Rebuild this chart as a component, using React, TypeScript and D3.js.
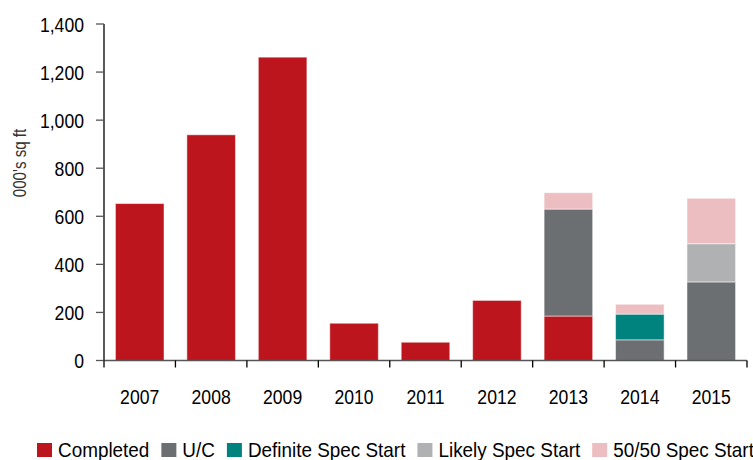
import React, { useEffect, useRef } from "react";
import * as d3 from "d3";

const years = ["2007", "2008", "2009", "2010", "2011", "2012", "2013", "2014", "2015"];
const completed = [653, 939, 1262, 155, 76, 250, 185, 0, 0];
const underConstruction = [0, 0, 0, 0, 0, 0, 445, 86, 327];
const definiteSpec = [0, 0, 0, 0, 0, 0, 0, 107, 0];
const likelySpec = [0, 0, 0, 0, 0, 0, 0, 0, 159];
const fiftySpec = [0, 0, 0, 0, 0, 0, 68, 41, 189];
const seriesNames = ["Completed", "U/C", "Definite Spec Start", "Likely Spec Start", "50/50 Spec Start"];
const seriesColors = ["#BD151D", "#6C6F71", "#00827E", "#B0B1B3", "#EDBEC1"];
const yTicks = [0, 200, 400, 600, 800, 1000, 1200, 1400];

const FONT = "'Liberation Sans', Arial, sans-serif";
const SX = 0.84;
const LSX = 0.9;

export default function App() {
  const ref = useRef<SVGSVGElement>(null);
  useEffect(() => {
    const svg = d3.select(ref.current);
    svg.selectAll("*").remove();
    const left = 104, right = 747, top = 24, bottom = 360.5;
    const x = d3.scaleBand<string>().domain(years).range([left, right]).paddingInner(0.32).paddingOuter(0.16);
    const y = d3.scaleLinear().domain([0, 1400]).range([bottom, top]);

    const narrowText = (g: any, tx: number, ty: number, anchor: string, size: number, str: string, rot = 0, sx = SX) => {
      const t = g.append("text")
        .attr("transform", `translate(${tx},${ty})${rot ? ` rotate(${rot})` : ""} scale(${sx},1)`)
        .attr("text-anchor", anchor)
        .attr("font-family", FONT).attr("font-size", size).attr("fill", "#000").text(str);
      return t;
    };

    const table = years.map((yr, i) => ({
      year: yr,
      s0: completed[i], s1: underConstruction[i], s2: definiteSpec[i], s3: likelySpec[i], s4: fiftySpec[i],
    }));
    const keys = ["s0", "s1", "s2", "s3", "s4"];
    const stacked = d3.stack<any>().keys(keys)(table);

    stacked.forEach((layer, li) => {
      svg.append("g").selectAll("rect").data(layer.filter((d) => d[1] - d[0] > 0)).join("rect")
        .attr("x", (d: any) => x(d.data.year)!)
        .attr("width", x.bandwidth())
        .attr("y", (d: any) => y(d[1]))
        .attr("height", (d: any) => y(d[0]) - y(d[1]))
        .attr("fill", seriesColors[li])
        .attr("stroke", "#ffffff").attr("stroke-opacity", 0.5).attr("stroke-width", 1);
    });

    // y axis
    const ya = svg.append("g");
    ya.append("line").attr("x1", left).attr("x2", left).attr("y1", top).attr("y2", bottom).attr("stroke", "#000").attr("stroke-width", 1.3);
    yTicks.forEach((t) => {
      ya.append("line").attr("x1", left - 8).attr("x2", left).attr("y1", y(t)).attr("y2", y(t)).attr("stroke", "#555").attr("stroke-width", 1.3);
      narrowText(ya, 84, y(t) + 7.5, "end", 21, d3.format(",")(t));
    });
    // x axis
    const xa = svg.append("g");
    xa.append("line").attr("x1", left).attr("x2", right).attr("y1", bottom).attr("y2", bottom).attr("stroke", "#555").attr("stroke-width", 1.5);
    const bounds = years.map((yr) => x(yr)! - (x.step() - x.bandwidth()) / 2).concat([right]);
    bounds.forEach((b) => {
      xa.append("line").attr("x1", b).attr("x2", b).attr("y1", bottom).attr("y2", bottom + 7).attr("stroke", "#000").attr("stroke-width", 1.3);
    });
    years.forEach((yr) => {
      narrowText(xa, x(yr)! + x.bandwidth() / 2, 404, "middle", 21, yr);
    });
    // y title
    narrowText(svg, 26, 163, "middle", 18, "000's sq ft", -90).attr("fill", "#333");

    // legend
    const lg = svg.append("g");
    let cx = 37;
    seriesNames.forEach((name, i) => {
      lg.append("rect").attr("x", cx).attr("y", 443).attr("width", 15).attr("height", 14).attr("fill", seriesColors[i]);
      const t = narrowText(lg, cx + 21, 457, "start", 21, name, 0, LSX);
      const w = (t.node() as SVGTextElement).getComputedTextLength() * LSX;
      cx = cx + 21 + w + 12;
    });
  }, []);
  return (
    <svg ref={ref} width={753} height={460} style={{ position: "absolute", left: 0, top: 0, background: "#fff" }} />
  );
}
